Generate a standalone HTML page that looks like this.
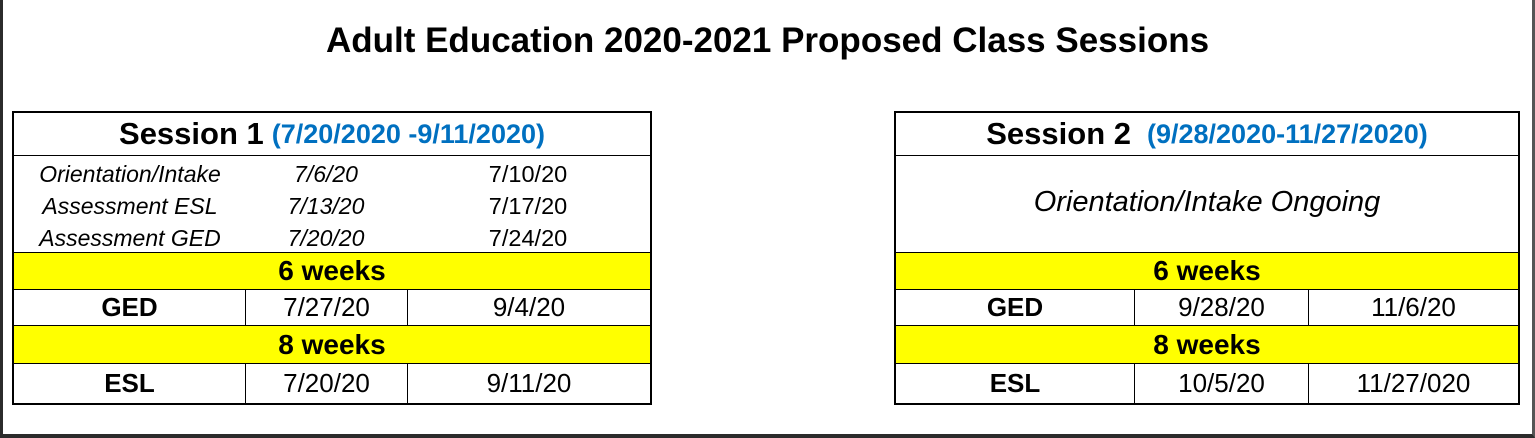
<!DOCTYPE html>
<html><head><meta charset="utf-8"><style>
*{margin:0;padding:0;box-sizing:border-box}
body{width:1535px;height:438px;background:#fff;font-family:"Liberation Sans",Arial,sans-serif;position:relative;overflow:hidden;color:#000}
.frame{position:absolute;left:0;top:0;width:1535px;height:438px;border-left:3px solid #2b2b2b;border-bottom:4px solid #2b2b2b;border-right:3px solid #555}
.title{position:absolute;left:0;width:1535px;top:21px;text-align:center;font-weight:bold;font-size:35px;line-height:40px}
.tbl{position:absolute;border:2px solid #000}
.r{position:absolute;left:0;right:0;border-bottom:1px solid #000;display:flex;align-items:center;justify-content:center;white-space:nowrap}
.y{background:#ffff00;font-weight:bold;font-size:28px}
.c{position:absolute;top:0;bottom:0;display:flex;align-items:center;justify-content:center;font-size:26px}
.vl{border-left:1px solid #000}
.hd{font-weight:bold;font-size:31px}
.bl{color:#0070c0;font-size:27px;margin-left:8px}
.it{position:absolute;font-style:italic;font-size:23px;text-align:center;line-height:30px}
.n{font-style:normal;font-size:23.5px}
</style></head><body>
<div class="frame"></div>
<div class="title">Adult Education 2020-2021 Proposed Class Sessions</div>

<div class="tbl" style="left:12px;top:111px;width:640px;height:294px">
 <div class="r hd" style="top:0;height:43px">Session 1<span class="bl">(7/20/2020 -9/11/2020)</span></div>
 <div class="r" style="top:43px;height:97px;display:block">
  <div class="it" style="left:0;width:232px;top:3px">Orientation/Intake</div>
  <div class="it" style="left:232px;width:160px;top:3px">7/6/20</div>
  <div class="it n" style="left:392px;width:244px;top:3px">7/10/20</div>
  <div class="it" style="left:0;width:232px;top:35px">Assessment ESL</div>
  <div class="it" style="left:232px;width:160px;top:35px">7/13/20</div>
  <div class="it n" style="left:392px;width:244px;top:35px">7/17/20</div>
  <div class="it" style="left:0;width:232px;top:67px">Assessment GED</div>
  <div class="it" style="left:232px;width:160px;top:67px">7/20/20</div>
  <div class="it n" style="left:392px;width:244px;top:67px">7/24/20</div>
 </div>
 <div class="r y" style="top:140px;height:37px">6 weeks</div>
 <div class="r" style="top:177px;height:36px">
  <div class="c" style="left:0;width:231px;font-weight:bold">GED</div>
  <div class="c vl" style="left:231px;width:162px">7/27/20</div>
  <div class="c vl" style="left:393px;right:0">9/4/20</div>
 </div>
 <div class="r y" style="top:213px;height:38px">8 weeks</div>
 <div class="r" style="top:251px;height:39px;border-bottom:none">
  <div class="c" style="left:0;width:231px;font-weight:bold">ESL</div>
  <div class="c vl" style="left:231px;width:162px">7/20/20</div>
  <div class="c vl" style="left:393px;right:0">9/11/20</div>
 </div>
</div>

<div class="tbl" style="left:894px;top:111px;width:626px;height:294px">
 <div class="r hd" style="top:0;height:43px">Session 2<span class="bl" style="margin-left:16px">(9/28/2020-11/27/2020)</span></div>
 <div class="r" style="top:43px;height:97px;font-style:italic;font-size:29px;padding-bottom:4px">Orientation/Intake Ongoing</div>
 <div class="r y" style="top:140px;height:37px">6 weeks</div>
 <div class="r" style="top:177px;height:36px">
  <div class="c" style="left:0;width:238px;font-weight:bold">GED</div>
  <div class="c vl" style="left:238px;width:174px">9/28/20</div>
  <div class="c vl" style="left:412px;right:0">11/6/20</div>
 </div>
 <div class="r y" style="top:213px;height:38px">8 weeks</div>
 <div class="r" style="top:251px;height:39px;border-bottom:none">
  <div class="c" style="left:0;width:238px;font-weight:bold">ESL</div>
  <div class="c vl" style="left:238px;width:174px">10/5/20</div>
  <div class="c vl" style="left:412px;right:0">11/27/020</div>
 </div>
</div>
</body></html>
